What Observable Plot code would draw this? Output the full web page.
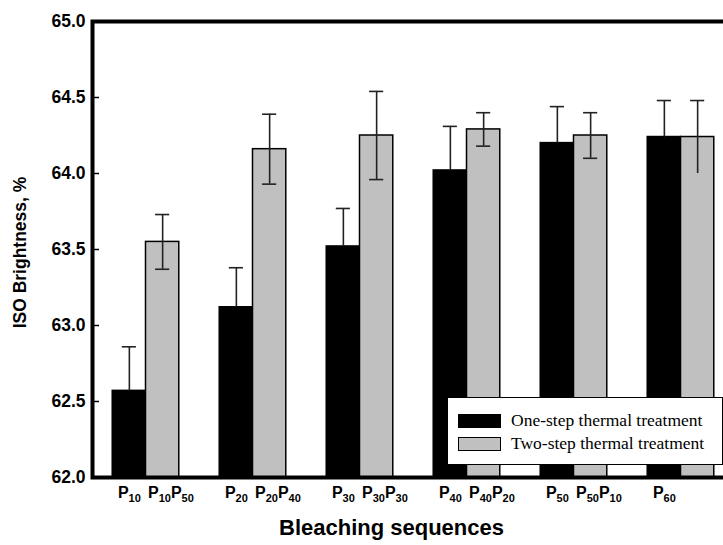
<!DOCTYPE html>
<html><head><meta charset="utf-8">
<script src="https://cdn.jsdelivr.net/npm/d3@7"></script>
<script src="https://cdn.jsdelivr.net/npm/@observablehq/plot@0.6"></script>
<style>
html,body{margin:0;padding:0;background:#fff;}
#wrap{position:relative;width:723px;height:545px;overflow:hidden;background:#fff;}
#wrap svg{max-width:none !important;display:block;}
#legend{position:absolute;left:447px;top:397px;width:276px;height:68px;border:1.3px solid #000;background:#fff;box-sizing:border-box;font-family:"Liberation Serif","Times New Roman",serif;font-size:17.5px;color:#000;}
#legend .row{position:absolute;left:10px;display:flex;align-items:center;height:20px;white-space:nowrap;}
#legend .sw{width:43px;height:14px;box-sizing:border-box;border:1.5px solid #000;margin-right:10px;}
</style>
</head><body>
<div id="wrap"></div>
<script>
// ---- data ----
const groups = ["P10", "P20", "P30", "P40", "P50", "P60"];
const labelsOne = ["P10", "P20", "P30", "P40", "P50", "P60"];
const labelsTwo = ["P10P50", "P20P40", "P30P30", "P40P20", "P50P10", ""];
const seriesNames = ["One-step thermal treatment", "Two-step thermal treatment"];
const oneStep = [62.57, 63.12, 63.52, 64.02, 64.20, 64.24];
const oneErr  = [0.29, 0.26, 0.25, 0.29, 0.24, 0.24];
const twoStep = [63.55, 64.16, 64.25, 64.29, 64.25, 64.24];
const twoErr  = [0.18, 0.23, 0.29, 0.11, 0.15, 0.24];
const yTicks = [62.0, 62.5, 63.0, 63.5, 64.0, 64.5, 65.0];
const seriesColors = ["#000000", "#c0c0c0"];

// ---- layout constants ----
const BW = 0.311;   // bar width in group units
const CAP = 0.066;  // half cap width in group units
const FONT = "Liberation Sans, Arial, sans-serif";

const rows = [];
groups.forEach((g, i) => {
  rows.push({i, series: seriesNames[0], value: oneStep[i], err: oneErr[i], label: labelsOne[i], x1: i - BW, x2: i, lower: oneStep[i]});
  rows.push({i, series: seriesNames[1], value: twoStep[i], err: twoErr[i], label: labelsTwo[i], x1: i, x2: i + BW, lower: twoStep[i] - twoErr[i]});
});
rows.forEach(d => { d.cx = (d.x1 + d.x2) / 2; d.upper = d.value + d.err; });
const oneRows = rows.filter(d => d.series === seriesNames[0]);
const twoRows = rows.filter(d => d.series === seriesNames[1] && d.label);

const chart = Plot.plot({
  width: 744,
  height: 545,
  marginLeft: 92,
  marginRight: 10,
  marginTop: 21,
  marginBottom: 68,
  x: {type: "linear", domain: [-0.5, 5.5], axis: null},
  y: {domain: [62, 65], axis: null},
  color: {domain: seriesNames, range: seriesColors},
  marks: [
    Plot.rect(rows, {x1: "x1", x2: "x2", y1: 62, y2: "value", fill: "series", stroke: "#000", strokeWidth: 1.5}),
    Plot.ruleX(rows, {x: "cx", y1: "lower", y2: "upper", stroke: "#222", strokeWidth: 1.6}),
    Plot.ruleY(rows, {y: "upper", x1: d => d.cx - CAP, x2: d => d.cx + CAP, stroke: "#222", strokeWidth: 1.6}),
    Plot.ruleY(twoRows, {y: "lower", x1: d => d.cx - CAP, x2: d => d.cx + CAP, stroke: "#222", strokeWidth: 1.6}),
    Plot.frame({stroke: "#000", strokeWidth: 4}),
    Plot.axisY(yTicks, {tickSize: 0, tickPadding: 7, tickFormat: d3.format(".1f"), fontSize: 17.5, fontWeight: "bold", fontFamily: FONT, fill: "#000", label: null}),
    Plot.axisY(yTicks, {tickSize: -7, fill: "none", stroke: "#000", strokeWidth: 1.5, label: null}),
    Plot.text(oneRows, {x: "cx", y: 62, text: "label", dy: 15, textAnchor: "middle", fontSize: 16, fontWeight: "bold", fontFamily: FONT, fill: "#000", className: "xlab"}),
    Plot.text(twoRows, {x: "x1", y: 62, text: "label", dx: 2, dy: 15, textAnchor: "start", fontSize: 16, fontWeight: "bold", fontFamily: FONT, fill: "#000", className: "xlab"}),
    Plot.text(["ISO Brightness, %"], {frameAnchor: "left", text: d => d, rotate: -90, textAnchor: "middle", dx: -72, dy: 3, fontSize: 17.5, fontWeight: "bold", fontFamily: FONT, fill: "#000", className: "ytitle"}),
    Plot.text(["Bleaching sequences"], {frameAnchor: "bottom", text: d => d, textAnchor: "middle", dx: -22, dy: 57, fontSize: 22, fontWeight: "bold", fontFamily: FONT, fill: "#000"})
  ]
});
chart.style.maxWidth = "none";
chart.style.overflow = "visible";

// make sure the rotated y title is centred on its anchor
chart.querySelectorAll(".ytitle, .ytitle text").forEach(el => el.setAttribute("text-anchor", "middle"));

// subscripts in x labels
chart.querySelectorAll(".xlab text").forEach(t => {
  const s = t.textContent;
  t.textContent = "";
  const re = /P(\d+)/g;
  let m, first = true;
  while ((m = re.exec(s))) {
    const p = document.createElementNS("http://www.w3.org/2000/svg", "tspan");
    p.textContent = "P";
    if (!first) p.setAttribute("dy", "-4");
    t.appendChild(p);
    const sub = document.createElementNS("http://www.w3.org/2000/svg", "tspan");
    sub.textContent = m[1];
    sub.setAttribute("font-size", "11");
    sub.setAttribute("dy", "4");
    t.appendChild(sub);
    first = false;
  }
});

const wrap = document.getElementById("wrap");
wrap.appendChild(chart);

// legend
const legend = document.createElement("div");
legend.id = "legend";
seriesNames.forEach((name, k) => {
  const row = document.createElement("div");
  row.className = "row";
  row.style.top = (k === 0 ? 12.5 : 35.5) + "px";
  const sw = document.createElement("div");
  sw.className = "sw";
  sw.style.background = seriesColors[k];
  const lab = document.createElement("span");
  lab.textContent = name;
  row.appendChild(sw);
  row.appendChild(lab);
  legend.appendChild(row);
});
wrap.appendChild(legend);
</script>
</body></html>
